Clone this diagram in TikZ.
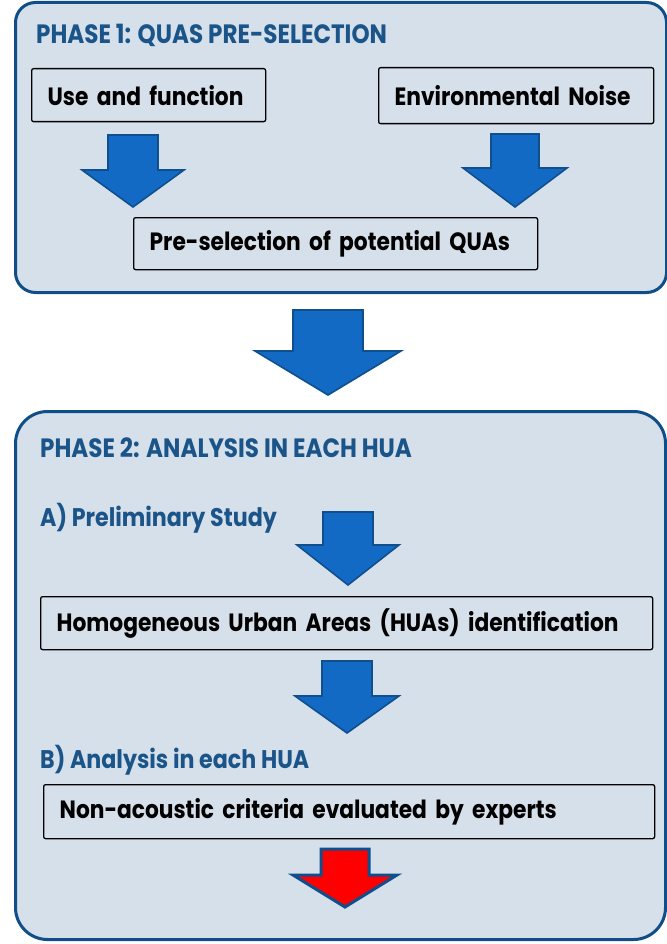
\documentclass[tikz,border=0pt]{standalone}
\usepackage{fontspec}
\newfontfamily\bodyfont{Poppins}[FakeStretch=0.87]
\definecolor{frameblue}{HTML}{0F4E86}
\definecolor{panelgrey}{HTML}{D6E0EA}
\definecolor{titleblue}{HTML}{1A5488}
\definecolor{arrowblue}{HTML}{136AC4}
\definecolor{arrowedge}{HTML}{0F4F8E}

\tikzset{
  blockarrow/.style={draw=arrowedge, fill=arrowblue, line width=1.6pt, line join=miter},
  stoparrow/.style={blockarrow, fill=red, line width=3pt}
}
% #1 style, #2 centre x, #3 top, #4 half shaft, #5 half head, #6 neck, #7 tip
\newcommand{\flowarrow}[7]{%
  \draw[#1] (#2-#4,#3) -- (#2+#4,#3) -- (#2+#4,#6) -- (#2+#5,#6) -- (#2,#7)
    -- (#2-#5,#6) -- (#2-#4,#6) -- cycle;}

\begin{document}
\begin{tikzpicture}[x=1pt, y=-1pt,
  frame/.style={draw=frameblue, fill=panelgrey, line width=3pt, inner sep=0pt, anchor=north west},
  box/.style={draw, line width=1.3pt, rounded corners=2pt, inner xsep=16pt, inner ysep=0pt,
    align=left, anchor=north west, font=\bodyfont\bfseries\fontsize{25}{28}\selectfont},
  head/.style={text=titleblue, inner sep=0pt, anchor=base west,
    font=\bodyfont\bfseries\fontsize{26.5}{30}\selectfont},
  subhead/.style={head, font=\bodyfont\bfseries\fontsize{25.5}{28}\selectfont}]
  \useasboundingbox (0,0) rectangle (666,944);

  % phase 1
  \node[frame, rounded corners=20pt, minimum width=651pt, minimum height=290pt] (phaseone) at (14,1) {};
  \node[head] (phaseonetitle) at (36,44) {PHASE 1: QUAS PRE-SELECTION};
  \node[box, text width=202pt, minimum height=53pt] (use) at (31,68) {Use and function};
  \node[box, text width=243pt, minimum height=56pt] (noise) at (378,67) {Environmental Noise};
  \flowarrow{blockarrow}{133}{135}{25}{51}{170}{207}
  \flowarrow{blockarrow}{515}{134}{24}{52}{168}{207}
  \node[box, text width=372pt, minimum height=52pt] (presel) at (133,217) {Pre-selection of potential QUAs};

  \flowarrow{blockarrow}{328}{310}{35}{73}{351}{395}

  % phase 2
  \node[frame, rounded corners=32pt, minimum width=650pt, minimum height=528pt] (phasetwo) at (14,410) {};
  \node[head] (phasetwotitle) at (40,457) {PHASE 2: ANALYSIS IN EACH HUA};
  \node[subhead] (prelim) at (40,526) {A) Preliminary Study};
  \flowarrow{blockarrow}{348}{512}{25}{51}{545}{585}
  \node[box, text width=580pt, minimum height=53pt] (hua) at (40,596) {Homogeneous Urban Areas (HUAs) identification};
  \flowarrow{blockarrow}{347}{661}{25}{52}{696}{733}
  \node[subhead] (analysis) at (40,768) {B) Analysis in each HUA};
  \node[box, text width=579pt, minimum height=54pt] (nonac) at (43,784) {Non-acoustic criteria evaluated by experts};
  \flowarrow{stoparrow}{345}{849}{24}{52}{875}{907}
\end{tikzpicture}
\end{document}
